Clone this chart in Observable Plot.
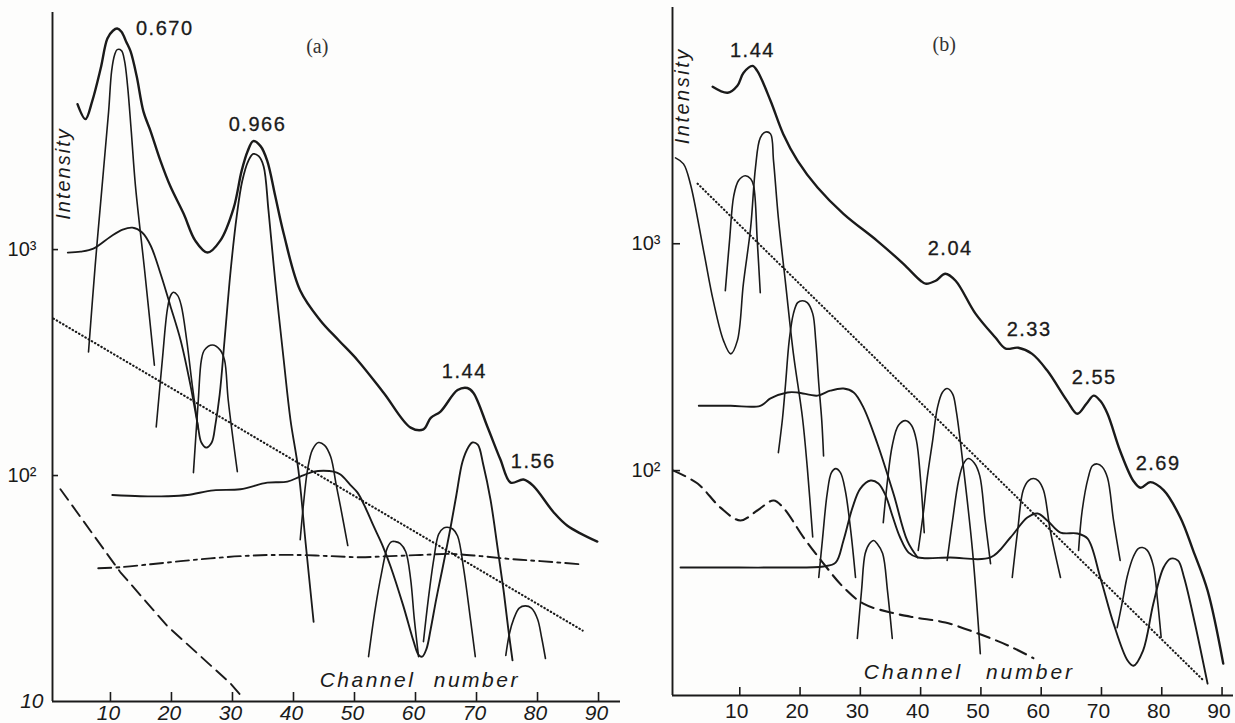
<!DOCTYPE html>
<html><head><meta charset="utf-8">
<script src="https://cdn.jsdelivr.net/npm/d3@7"></script>
<script src="https://cdn.jsdelivr.net/npm/@observablehq/plot@0.6"></script>
<style>
html,body{margin:0;padding:0;background:#fff;}
#wrap{position:relative;width:1235px;height:723px;overflow:hidden;background:#fdfdfc;}
#wrap svg{position:absolute;top:0;}
</style></head><body><div id="wrap"></div>
<script>
// ---------- shared ----------
const X_TICKS = [10, 20, 30, 40, 50, 60, 70, 80, 90];
const Y_TICK_LABELS = {10: "10", 100: "10²", 1000: "10³"};
const AXIS_TITLE_X = "Channel number";
const AXIS_TITLE_Y = "Intensity";

// ---------- panel (a) : [channel, intensity] ----------
const envA = [[4.6,4400],[5.9,3780],[7.0,4530],[8.4,6340],[9.5,8590],[10.4,9300],[11.1,9510],[11.8,9200],[12.6,8300],[13.3,7530],[14.3,5850],[15.4,4090],[16.6,3330],[18.2,2470],[19.8,1910],[22.0,1440],[23.9,1095],[25.9,970],[28.0,1095],[30.2,1530],[31.5,2230],[32.5,2730],[33.4,3020],[34.6,2870],[35.7,2470],[37.0,1730],[38.4,1175],[41.1,659],[44.4,486],[47.4,397],[50.5,324],[54.8,232],[59.2,163],[61.3,160],[62.5,180],[64.1,192],[66.9,239],[68.5,244],[69.5,232],[71.8,164],[73.9,118],[75.6,93],[77.7,96],[79.3,90],[82.6,69],[84.9,60],[89.8,51]];
const peakA1 = [[6.4,352],[7.5,851],[8.7,2010],[9.7,4090],[10.2,6200],[10.7,7300],[11.1,7670],[11.8,7600],[12.3,6860],[12.8,5320],[13.4,3370],[14.1,1910],[15.6,808],[17.2,308]];
const humpA1 = [[3.0,970],[5.1,980],[7.2,1010],[10.0,1140],[12.0,1225],[13.6,1250],[15.2,1190],[16.6,1040],[18.2,783],[19.8,566],[21.5,397],[23.1,252],[24.3,168],[24.9,140],[25.7,133],[26.6,140],[27.2,168],[27.9,228],[28.7,397],[29.7,808],[30.7,1410],[31.6,2010],[32.6,2470],[33.4,2650],[34.3,2590],[35.1,2340],[35.9,1490],[37.0,730],[38.4,324],[39.5,177],[40.8,106],[42.0,50],[43.3,22.5]];
const peakA20 = [[17.5,164],[18.5,324],[19.3,538],[19.8,621],[20.3,647],[21.0,627],[21.6,566],[22.5,397],[23.4,252],[24.4,160]];
const peakA26 = [[23.6,103],[24.4,216],[24.9,324],[25.4,359],[26.7,378],[28.0,359],[28.7,324],[29.3,216],[30.8,104]];
const humpA2 = [[10.3,82],[14.9,81],[19.3,81],[22.6,82],[26.9,86],[31.3,87],[35.7,93],[39.0,94],[41.1,99],[43.3,104],[44.9,105],[46.6,104],[47.7,101],[49.3,91],[50.5,84],[51.8,72],[53.1,60],[54.6,49],[55.9,39.7],[58.0,26.5],[59.7,18.4],[60.5,16.1],[61.1,15.8],[61.8,17.1],[62.5,21.0],[63.4,28.4],[64.4,38.5],[65.7,58],[66.7,82],[67.7,115],[68.7,134],[69.3,140],[70.2,137],[71.1,112],[72.3,78],[73.4,49],[74.4,31.5],[75.2,21.0],[75.9,15.2]];
const peakA45 = [[41.1,52],[41.6,73],[42.3,106],[43.1,130],[44.1,140],[45.1,136],[46.1,121],[47.0,91],[47.7,73],[48.9,49]];
const peakA56 = [[52.3,15.8],[53.4,25.7],[54.4,36.6],[55.4,48],[56.1,51],[56.7,51],[57.5,50],[58.4,46],[59.2,34.8],[59.8,23.2],[60.5,15.8]];
const peakA65 = [[61.3,18.4],[62.1,28.4],[63.0,42.7],[63.8,55],[64.6,58.5],[65.2,59],[66.1,58],[66.9,54],[67.9,38.5],[69.0,23.2],[69.8,15.8]];
const peakA78 = [[74.8,16.0],[75.4,20.0],[76.1,23.2],[77.0,25.9],[78.0,26.5],[79.0,25.9],[80.0,23.2],[80.7,19.0],[81.3,15.5]];
const dashDotA = [[8.0,38.9],[11.6,39.3],[16.6,40.5],[21.5,41.8],[26.4,43],[31.3,44],[36.2,44.5],[41.1,44.5],[46.1,44],[51.0,43.5],[55.9,44],[60.8,44.5],[65.7,45],[70.7,44],[75.6,42.7],[80.5,41.8],[87.0,40.5]];
const dottedA = [[0.66,495],[87.4,20.6]];
const dashedA = [[1.8,87],[11.6,37.4],[19.3,21.6],[29.7,12.0],[31.8,10.3]];
const labelsA = ["0.670", "0.966", "1.44", "1.56"];
const labelXA = [18.9, 34.1, 68.0, 79.3];
const labelYA = [9500, 3560, 288, 115];
const tagA = ["(a)"], tagXA = [43.9], tagYA = [7910];
const titleXA = [60.7, 12.4];   // channel, intensity of "Channel number"
const titleYA = [2.3, 2170];    // channel, intensity of "Intensity"

// ---------- panel (b) ----------
const envB = [[5.5,4920],[8.0,4630],[9.6,4970],[10.6,5660],[12.1,6080],[12.9,5780],[15.1,4270],[17.2,3050],[19.6,2320],[22.9,1770],[27.2,1355],[32.8,1030],[37.1,817],[40.0,687],[40.8,667],[42.5,687],[44.1,738],[45.8,687],[49.1,492],[52.4,386],[54.1,345],[56.2,348],[58.5,327],[61.0,276],[64.3,203],[66.0,178],[67.5,197],[68.7,214],[69.8,203],[71.0,178],[73.1,122],[75.3,90],[76.5,84],[78.1,89],[80.3,82],[83.1,62],[85.2,44.5],[87.6,29.6],[90.2,14.1]];
const curveB1 = [[-0.66,2390],[0.66,2250],[1.8,1840],[4.0,931],[5.6,561],[7.3,374],[8.5,327],[9.6,374],[10.6,667],[11.8,1176],[12.6,2160],[13.4,2930],[14.3,3110],[15.1,3050],[15.6,2320],[16.4,1300],[17.6,667],[18.9,327],[20.4,171],[21.2,103],[22.1,51]];
const peakB11 = [[7.6,621],[8.3,1030],[9.0,1626],[9.8,1900],[10.9,1995],[11.8,1933],[12.3,1800],[12.9,1030],[13.4,608]];
const peakB20 = [[16.4,120],[17.1,171],[17.6,242],[18.2,374],[18.9,492],[19.6,550],[20.4,561],[21.2,550],[22.1,492],[22.6,374],[23.1,242],[23.6,166],[23.9,116]];
const humpB1 = [[3.2,193],[8.5,193],[13.4,193],[15.1,208],[17.9,221],[19.6,221],[22.9,214],[25.0,225],[27.2,230],[28.9,221],[30.5,190],[32.8,132],[35.5,79],[37.8,49],[39.5,41.4]];
const baseB = [[0.17,37.4],[6.8,37.4],[16.3,37.4],[23.9,37.8],[25.9,39.3],[27.2,49.2],[28.7,68.7],[30.0,83.3],[31.7,90.4],[33.0,87.7],[34.2,77.6],[35.3,63.4],[36.6,50.7],[38.0,43.5],[39.6,41.4],[44.9,41.4],[51.6,41.4],[54.9,50.7],[57.7,62.1],[59.4,64.7],[61.0,60.3],[63.2,53.3],[66.0,52.8],[67.7,50.1],[69.8,33.8],[72.0,21.2],[74.3,14.6],[75.3,13.8],[76.9,16.1],[78.6,25.9],[80.3,37.4],[81.5,40.9],[82.7,40.1],[83.7,33.8],[85.5,21.2],[87.6,11.5]];
const peakB26 = [[23.1,33.8],[23.7,49.2],[24.5,79.2],[25.2,98],[25.9,102],[26.7,98],[27.5,81.7],[28.4,54.5],[29.2,33.8]];
const peakB32 = [[29.5,18.2],[30.2,29.6],[30.8,43.1],[31.5,47.6],[32.2,49.2],[32.8,47.6],[33.7,43.1],[34.5,29.6],[35.3,18.2]];
const peakB37 = [[33.8,59],[34.5,90.4],[35.3,129],[36.3,158],[37.5,166],[38.5,158],[39.3,136],[40.0,90.4],[40.6,53.3]];
const peakB44 = [[39.6,44.5],[40.5,66.7],[41.1,93.1],[42.0,136],[42.8,190],[43.6,221],[44.4,230],[45.3,218],[45.9,184],[47.1,103],[48.6,44.5],[49.9,15.6]];
const peakB48 = [[44.4,40.2],[45.3,60.3],[46.3,90.4],[47.1,107],[47.9,113],[48.9,108],[49.8,95],[50.7,60.3],[51.6,38.9]];
const peakB59 = [[55.2,33.8],[56.1,54.5],[57.0,81.7],[57.9,90.4],[58.7,92.3],[59.5,90.4],[60.4,81.7],[61.5,54.5],[63.2,33.8]];
const peakB69 = [[66.2,44.5],[66.8,66.7],[67.8,93.1],[68.5,105],[69.3,107],[70.1,104],[71.0,93.1],[72.0,60.3],[73.1,40.2]];
const peakB76 = [[72.6,20.3],[73.5,26.7],[74.3,34.4],[75.3,41.8],[76.1,45.3],[76.8,45.8],[77.6,44.5],[78.6,38.1],[79.3,26.7],[79.9,18.4]];
const dashedB = [[-1.0,100],[3.0,87.7],[6.8,68.7],[10.1,60.3],[12.9,66.7],[15.6,73.8],[17.2,68.7],[20.6,50.7],[23.9,38.9],[27.2,30.6],[30.5,25.9],[35.0,23.7],[39.1,22.5],[44.1,21.4],[49.6,19.1],[54.6,16.9],[58.7,14.9]];
const dottedB = [[3.0,1840],[86.9,11.9]];
const labelsB = ["1.44", "2.04", "2.33", "2.55", "2.69"];
const labelXB = [12.1, 44.9, 58.0, 68.8, 79.4];
const labelYB = [7080, 950, 418, 257, 107];
const tagB = ["(b)"], tagXB = [43.9], tagYB = [7540];
const titleXB = [48.1, 12.9];
const titleYB = [0.5, 4490];

// ---------- drawing helpers ----------
const INK = "#1a1a1a";
const FONT = "'Liberation Sans', Arial, sans-serif";
const line = (data, o = {}) => Plot.line(data, {x: d => d[0], y: d => d[1], curve: "catmull-rom", stroke: INK, strokeWidth: 1.6, ...o});

function panel(cfg) {
  return Plot.plot({
    width: cfg.width, height: 723,
    marginLeft: cfg.ml, marginRight: cfg.mr, marginTop: cfg.mt, marginBottom: cfg.mb,
    x: {domain: cfg.xDomain},
    y: {type: "log", domain: cfg.yDomain},
    style: {background: "none", color: INK, fontFamily: FONT, overflow: "visible"},
    marks: [
      Plot.ruleX([cfg.xDomain[0]], {stroke: INK, strokeWidth: 1.9}),
      Plot.ruleY([cfg.yDomain[0]], {stroke: INK, strokeWidth: 1.9}),
      Plot.tickX(X_TICKS, {x: d => d, insetTop: cfg.frameH - cfg.xTick, stroke: INK, strokeWidth: 1.6}),
      Plot.tickY([100, 1000], {y: d => d, insetRight: cfg.frameW - cfg.yTick, stroke: INK, strokeWidth: 1.6}),
      Plot.axisX({ticks: X_TICKS, tickSize: 0, tickPadding: cfg.xPad, dx: cfg.xdx, fontSize: 21, fontStyle: cfg.italic ? "italic" : "normal", label: null}),
      Plot.axisY({ticks: [100, 1000], tickFormat: d => Y_TICK_LABELS[d], tickSize: 0, tickPadding: cfg.yPad, fontSize: 20, label: null}),
      ...cfg.extraAxes,
      ...cfg.lines,
      Plot.text(cfg.labels, {x: (d, i) => cfg.labelX[i], y: (d, i) => cfg.labelY[i], text: d => d, fontSize: 20, fill: INK, stroke: INK, strokeWidth: 0.3}),
      Plot.text(cfg.tag, {x: (d, i) => cfg.tagX[i], y: (d, i) => cfg.tagY[i], text: d => d, fontSize: 20, fontFamily: "'Liberation Serif', serif", fill: "#333"}),
      Plot.text([AXIS_TITLE_X], {x: () => cfg.titleX[0], y: () => cfg.titleX[1], text: d => d, fontSize: 21, fontStyle: "italic", fill: INK}),
      Plot.text([AXIS_TITLE_Y], {x: () => cfg.titleY[0], y: () => cfg.titleY[1], text: d => d, rotate: -90, fontSize: 20, fontStyle: "italic", fill: INK})
    ]
  });
}

const svgA = panel({
  width: 625, ml: 52, mr: 5, mt: 12, mb: 22, frameW: 568, frameH: 689,
  xDomain: [0.5, 93.6], yDomain: [10, 11200], xTick: 9, yTick: 6,
  xPad: 4, xdx: -2, yPad: 16, italic: true,
  extraAxes: [Plot.axisY({ticks: [10], tickFormat: d => Y_TICK_LABELS[d], tickSize: 0, tickPadding: 9, fontSize: 21, fontStyle: "italic", label: null})],
  lines: [
    line(humpA1, {strokeWidth: 1.8}),
    line(humpA2, {strokeWidth: 1.9}),
    line(peakA1), line(peakA20), line(peakA26), line(peakA45), line(peakA56), line(peakA65), line(peakA78),
    line(dashDotA, {strokeWidth: 1.9, strokeDasharray: "13,5,3,5"}),
    line(dottedA, {curve: "linear", strokeWidth: 2.1, strokeDasharray: "0.5,3.2", strokeLinecap: "round"}),
    line(dashedA, {curve: "linear", strokeWidth: 1.9, strokeDasharray: "13,7"}),
    line(envA, {strokeWidth: 2.4})
  ],
  labels: labelsA, labelX: labelXA, labelY: labelYA,
  tag: tagA, tagX: tagXA, tagY: tagYA, titleX: titleXA, titleY: titleYA
});

const svgB = panel({
  width: 610, ml: 47, mr: 2, mt: 7, mb: 28, frameW: 561, frameH: 688,
  xDomain: [-1.16, 91.9], yDomain: [10.2, 11000], xTick: 8, yTick: 8,
  xPad: 8, xdx: -3, yPad: 12, italic: false,
  extraAxes: [],
  lines: [
    line(humpB1, {strokeWidth: 1.9}),
    line(baseB, {strokeWidth: 1.9}),
    line(curveB1), line(peakB11), line(peakB20), line(peakB26), line(peakB32), line(peakB37),
    line(peakB44), line(peakB48), line(peakB59), line(peakB69), line(peakB76),
    line(dashedB, {strokeWidth: 2.1, strokeDasharray: "13,7"}),
    line(dottedB, {curve: "linear", strokeWidth: 2.1, strokeDasharray: "0.5,3.2", strokeLinecap: "round"}),
    line(envB, {strokeWidth: 2.4})
  ],
  labels: labelsB, labelX: labelXB, labelY: labelYB,
  tag: tagB, tagX: tagXB, tagY: tagYB, titleX: titleXB, titleY: titleYB
});

const wrap = document.getElementById("wrap");
svgA.style.left = "0px";
svgB.style.left = "625px";
wrap.appendChild(svgA);
wrap.appendChild(svgB);

function spacing(svg, wide) {
  d3.select(svg).selectAll("text").each(function () {
    const t = this.textContent;
    if (t === AXIS_TITLE_X) { this.style.letterSpacing = wide ? "3px" : "2.5px"; this.style.wordSpacing = wide ? "14px" : "10px"; }
    else if (t === AXIS_TITLE_Y) { this.style.letterSpacing = wide ? "2.5px" : "2px"; }
    else if (/^\d\.\d+$/.test(t)) { this.style.letterSpacing = "1.5px"; }
  });
}
spacing(svgA, false);
spacing(svgB, true);
</script>
</body></html>
